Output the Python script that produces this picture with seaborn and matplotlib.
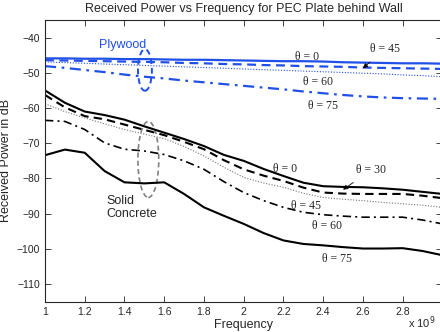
import matplotlib
matplotlib.use("Agg")
import matplotlib.pyplot as plt
from matplotlib.patches import Ellipse
import seaborn as sns

# Frequenz in GHz (x 10^9)
freq = [1.0, 1.1, 1.2, 1.3, 1.4, 1.5, 1.6, 1.7, 1.8, 1.9, 2.0,
        2.1, 2.2, 2.3, 2.4, 2.5, 2.6, 2.7, 2.8, 2.9, 3.0]

# Plywood
ply_0 = [-45.9, -45.9, -46.0, -46.0, -46.1, -46.1, -46.2, -46.3, -46.3, -46.4, -46.5,
         -46.6, -46.7, -46.7, -46.8, -47.0, -47.1, -47.2, -47.3, -47.3, -47.4]
ply_45 = [-46.4, -46.5, -46.6, -46.7, -46.8, -46.9, -47.0, -47.2, -47.3, -47.5, -47.6,
          -47.8, -47.9, -48.1, -48.2, -48.3, -48.5, -48.6, -48.7, -48.8, -48.9]
ply_60 = [-46.9, -47.1, -47.3, -47.5, -47.7, -47.9, -48.1, -48.3, -48.5, -48.7, -48.9,
          -49.1, -49.3, -49.5, -49.7, -49.9, -50.1, -50.3, -50.6, -50.8, -51.1]
ply_75 = [-48.1, -48.6, -49.2, -49.8, -50.5, -51.1, -51.6, -52.2, -52.7, -53.2, -53.7,
          -54.2, -54.7, -55.3, -55.8, -56.3, -56.7, -57.0, -57.2, -57.3, -57.4]

# Solid Concrete
con_0 = [-55.0, -58.5, -61.0, -62.0, -63.3, -65.2, -67.0, -68.8, -70.8, -73.3, -75.0,
         -77.3, -79.3, -81.2, -82.2, -82.4, -82.5, -82.8, -83.2, -83.8, -84.4]
con_30 = [-56.3, -59.8, -62.3, -63.2, -64.7, -66.2, -67.7, -69.6, -71.7, -74.8, -77.4,
          -79.2, -80.7, -82.6, -84.0, -84.3, -84.4, -84.4, -84.4, -84.9, -85.6]
con_45 = [-58.8, -61.0, -62.8, -64.5, -66.1, -67.4, -68.7, -70.9, -73.6, -76.8, -79.7,
          -81.3, -82.5, -84.2, -85.4, -85.9, -86.3, -86.8, -87.2, -87.6, -88.2]
con_60 = [-63.5, -63.8, -66.1, -69.9, -71.7, -72.2, -73.2, -75.0, -77.4, -80.9, -84.0,
          -86.3, -88.2, -89.6, -90.3, -90.7, -91.0, -91.0, -91.0, -91.8, -92.9]
con_75 = [-73.4, -71.8, -72.7, -77.9, -81.1, -81.4, -81.1, -84.4, -88.2, -90.6, -92.9,
          -95.5, -97.6, -98.6, -99.0, -99.5, -99.9, -99.9, -99.8, -100.6, -101.8]

x_ticks = [1, 1.2, 1.4, 1.6, 1.8, 2, 2.2, 2.4, 2.6, 2.8, 3]
x_labels = ["1", "1.2", "1.4", "1.6", "1.8", "2", "2.2", "2.4", "2.6", "2.8", ""]
y_ticks = [-110, -100, -90, -80, -70, -60, -50, -40]

blue = "#2050e8"

sns.set_style("ticks")
plt.rcParams["font.family"] = ["Liberation Sans", "DejaVu Sans"]

fig = plt.figure(figsize=(4.4, 3.32), dpi=100)
ax = fig.add_axes([45 / 440, 1 - 301.7 / 332, 397.4 / 440, 281.7 / 332])

# plywood krive
sns.lineplot(x=freq, y=ply_0, ax=ax, color=blue, lw=1.6, linestyle="-")
sns.lineplot(x=freq, y=ply_45, ax=ax, color=blue, lw=1.6, linestyle=(0, (4, 2.5)))
sns.lineplot(x=freq, y=ply_60, ax=ax, color=blue, lw=0.8, linestyle=(0, (1, 1.5)))
sns.lineplot(x=freq, y=ply_75, ax=ax, color=blue, lw=1.6, linestyle=(0, (5, 2.5, 1.2, 2.5)))

# beton krive
sns.lineplot(x=freq, y=con_0, ax=ax, color="black", lw=1.5, linestyle="-")
sns.lineplot(x=freq, y=con_30, ax=ax, color="black", lw=1.5, linestyle=(0, (4, 2.5)))
sns.lineplot(x=freq, y=con_45, ax=ax, color="0.45", lw=0.8, linestyle=(0, (1, 1.5)))
sns.lineplot(x=freq, y=con_60, ax=ax, color="black", lw=1.2, linestyle=(0, (5, 2.5, 1.2, 2.5)))
sns.lineplot(x=freq, y=con_75, ax=ax, color="black", lw=1.5, linestyle="-")

ax.set_xlim(1, 3)
ax.set_ylim(-115, -35)
ax.set_xticks(x_ticks)
ax.set_xticklabels(x_labels)
ax.set_yticks(y_ticks)
ax.tick_params(direction="in", top=True, right=True, labelsize=7.5, length=4, width=0.6)
for s in ax.spines.values():
    s.set_linewidth(0.8)

ax.set_title("Received Power vs Frequency for PEC Plate behind Wall", fontsize=9, pad=6)
ax.set_xlabel("Frequency", fontsize=9, labelpad=2)
ax.set_ylabel("Received Power in dB", fontsize=9)
ax.yaxis.set_label_coords(-0.082, 0.5)
fig.text(408 / 440, 1 - 323 / 332, "x 10$^9$", fontsize=8, va="center", ha="left")

# elipse
ax.add_patch(Ellipse((1.503, -49.2), 0.07, 11.8, fill=False, ec=blue,
                     lw=1.4, linestyle=(0, (3, 2))))
ax.add_patch(Ellipse((1.52, -74.6), 0.105, 21.6, fill=False, ec="0.5",
                     lw=1.2, linestyle=(0, (3, 2))))

ax.text(1.27, -42.0, "Plywood", color=blue, fontsize=9, ha="left", va="center")
ax.text(1.31, -84.6, "Solid\nConcrete", fontsize=9, ha="left", va="top", linespacing=1.1)

serif = dict(family=["Liberation Serif", "DejaVu Serif"], fontsize=8.5)
ax.text(2.32, -45.5, "θ = 0", ha="center", va="center", **serif)
ax.text(2.375, -52.6, "θ = 60", ha="center", va="center", **serif)
ax.text(2.40, -59.4, "θ = 75", ha="center", va="center", **serif)
ax.annotate("θ = 45", xy=(2.60, -48.7), xytext=(2.71, -43.3), ha="center", va="center",
            arrowprops=dict(arrowstyle="-|>", lw=0.6, color="black",
                            shrinkA=4, shrinkB=0, mutation_scale=7), **serif)

ax.text(2.21, -77.2, "θ = 0", ha="center", va="center", **serif)
ax.text(2.315, -87.9, "θ = 45", ha="center", va="center", **serif)
ax.text(2.42, -93.5, "θ = 60", ha="center", va="center", **serif)
ax.text(2.47, -103.0, "θ = 75", ha="center", va="center", **serif)
ax.annotate("θ = 30", xy=(2.50, -83.2), xytext=(2.64, -77.6), ha="center", va="center",
            arrowprops=dict(arrowstyle="-|>", lw=0.6, color="black",
                            shrinkA=4, shrinkB=0, mutation_scale=7), **serif)

fig.savefig("out.png", dpi=100)
plt.close()
